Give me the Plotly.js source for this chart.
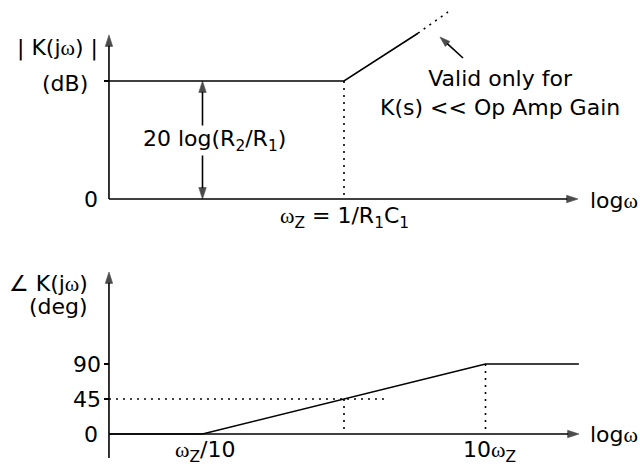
<!DOCTYPE html>
<html>
<head>
<meta charset="utf-8">
<script src="https://cdn.plot.ly/plotly-3.0.1.min.js"></script>
<style>html,body{margin:0;padding:0;background:#fff;}#chart{width:640px;height:468px;}</style>
</head>
<body>
<div id="chart"></div>
<script>
// x = log10(omega / omega_Z)
const axisStartX = -1.661;
const magAxisEndX = 1.654;
const phaseAxisEndX = 1.661;

// Magnitude (dB, normalised: 20 log(R2/R1) = 20)
const magLevel = 20;
const magX = [axisStartX, 0, 0.523];
const magY = [magLevel, magLevel, 28.1];
const magExtX = [0.523, 0.735];
const magExtY = [28.1, 31.7];
const magAxisTop = 27.8;
const noteArrowX = [0.841, 0.678];
const noteArrowY = [23.9, 27.46];

// Phase (deg)
const phaseX = [axisStartX, -1, 1, 1.66];
const phaseY = [0, 0, 90, 90];
const phaseTicks = [0, 45, 90];
const phaseTickText = ['0', '45', '90'];
const phaseAxisTop = 208.3;
const phaseAxisBottom = -30.9;
const phase45DotEndX = 0.29;

const breakX = [-1, 0, 1];
const breakLabels = ['ω<sub>Z</sub>/10', 'ω<sub>Z</sub> = 1/R<sub>1</sub>C<sub>1</sub>', '10ω<sub>Z</sub>'];

const W = '<span style="font-family:\'Liberation Serif\'">ω</span>';
const fix = s => s.replace(/ω/g, W);

const LW = 1.6;
const black = '#000';
const dotted = '2px,5px';

function line(xa, ya, x, y, dash) {
  return {x: x, y: y, xaxis: xa, yaxis: ya, mode: 'lines', line: {color: black, width: LW, dash: dash || 'solid'}, hoverinfo: 'skip'};
}
function arrowLine(xa, ya, x, y, size) {
  return {x: x, y: y, xaxis: xa, yaxis: ya, mode: 'lines+markers',
    line: {color: black, width: LW},
    marker: {symbol: 'arrow', angleref: 'previous', size: [0, size || 12], color: black, line: {width: 0.6, color: black}},
    hoverinfo: 'skip'};
}

const magMid = magLevel / 2;
const traces = [
  // magnitude axes
  arrowLine('x', 'y', [axisStartX, axisStartX], [0, magAxisTop]),
  arrowLine('x', 'y', [axisStartX, magAxisEndX], [0, 0]),
  arrowLine('x', 'y', [breakX[0], breakX[0]], [magMid, magLevel]),
  arrowLine('x', 'y', [breakX[0], breakX[0]], [magMid, 0]),
  arrowLine('x', 'y', noteArrowX, noteArrowY, 11),
  line('x', 'y', magX, magY),
  line('x', 'y', magExtX, magExtY, dotted),
  line('x', 'y', [breakX[1], breakX[1]], [magLevel, 0], dotted),
  // phase axes
  arrowLine('x2', 'y2', [axisStartX, axisStartX], [phaseAxisBottom, phaseAxisTop]),
  arrowLine('x2', 'y2', [axisStartX, phaseAxisEndX], [0, 0]),
  line('x2', 'y2', phaseX, phaseY),
  line('x2', 'y2', [axisStartX, phase45DotEndX], [45, 45], dotted),
  line('x2', 'y2', [breakX[1], breakX[1]], [45, 0], dotted),
  line('x2', 'y2', [breakX[2], breakX[2]], [90, 0], dotted)
];

const font = {family: 'DejaVu Sans', size: 22, color: black};
function label(xr, yr, x, y, text, xanchor, extra) {
  return Object.assign({xref: xr, yref: yr, x: x, y: y, text: fix(text), showarrow: false,
    xanchor: xanchor, yanchor: 'middle', font: font}, extra || {});
}

const annotations = [
  label('x', 'y', -1.724, 25.6, '| K(jω) |', 'right'),
  label('x', 'y', -1.795, 19.5, '(dB)', 'right'),
  label('x', 'y', -1.724, 0, '0', 'right'),
  label('x', 'y', -0.912, 10.0, '20 log(R<sub>2</sub>/R<sub>1</sub>)', 'center', {bgcolor: '#fff', borderpad: 0}),
  label('x', 'y', breakX[1], -3.05, breakLabels[1], 'center'),
  label('x', 'y', 1.724, -0.2, 'logω', 'left'),
  label('x', 'y', 1.102, 17.9, 'Valid only for<br>K(s) << Op Amp Gain', 'center'),
  label('x2', 'y2', -1.795, 194.1, '∠ K(jω)', 'right'),
  label('x2', 'y2', -1.795, 163.3, '(deg)', 'right'),
  label('x2', 'y2', -1.703, phaseTicks[2], phaseTickText[2], 'right'),
  label('x2', 'y2', -1.703, phaseTicks[1], phaseTickText[1], 'right'),
  label('x2', 'y2', -1.724, phaseTicks[0], phaseTickText[0], 'right'),
  label('x2', 'y2', -0.982, -23.1, breakLabels[0], 'center'),
  label('x2', 'y2', 1.03, -23.1, breakLabels[2], 'center'),
  label('x2', 'y2', 1.724, 0, 'logω', 'left')
];

const xr = [-344 / 141.5, 296 / 141.5];
const hiddenX = {range: xr, visible: false, fixedrange: true};
const yCommon = {anchor: 'free', position: 109 / 640, showline: false, showgrid: false, zeroline: false,
  showticklabels: false, ticks: 'outside', ticklen: 5, tickwidth: LW, tickcolor: black, fixedrange: true};

const layout = {
  width: 640, height: 468,
  margin: {l: 0, r: 0, t: 0, b: 0},
  paper_bgcolor: '#fff', plot_bgcolor: 'rgba(0,0,0,0)',
  showlegend: false,
  xaxis: Object.assign({domain: [0, 1], anchor: 'y'}, hiddenX),
  xaxis2: Object.assign({domain: [0, 1], anchor: 'y2'}, hiddenX),
  yaxis: Object.assign({domain: [0.5, 1], range: [-(234 - 199) / 5.9, 199 / 5.9], tickvals: [magLevel]}, yCommon),
  yaxis2: Object.assign({domain: [0, 0.5], range: [-(468 - 434) / 0.7778, (434 - 234) / 0.7778], tickvals: [45, 90]}, yCommon),
  annotations: annotations,
  font: font
};

Plotly.newPlot('chart', traces, layout, {staticPlot: true, displayModeBar: false});
</script>
</body>
</html>
